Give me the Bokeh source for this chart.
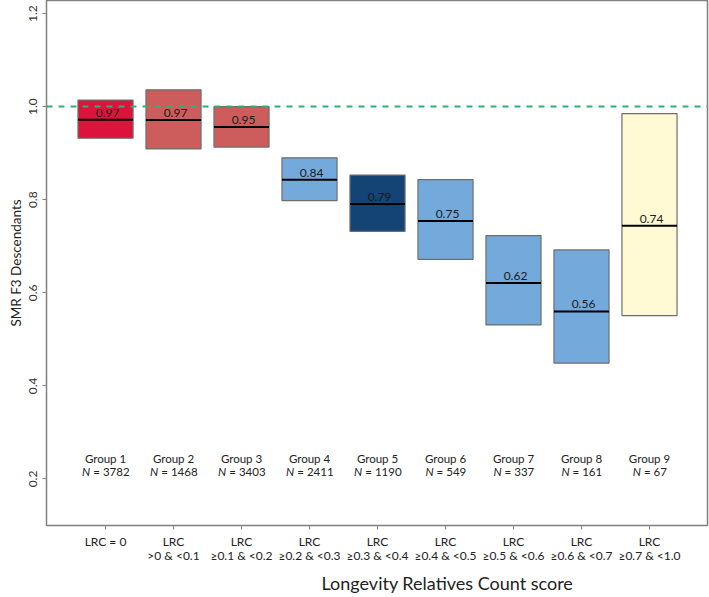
from bokeh.plotting import figure
from bokeh.models import Span, Title, FixedTicker, ColumnDataSource
from bokeh.core.properties import value
from bokeh.embed import file_html
from bokeh.resources import INLINE

# ---- data ----
groups = [1, 2, 3, 4, 5, 6, 7, 8, 9]
group_names = ["Group 1", "Group 2", "Group 3", "Group 4", "Group 5",
               "Group 6", "Group 7", "Group 8", "Group 9"]
n_counts = [3782, 1468, 3403, 2411, 1190, 549, 337, 161, 67]
lrc_labels = ["LRC = 0", "LRC\n>0 & <0.1", "LRC\n≥0.1 & <0.2", "LRC\n≥0.2 & <0.3",
              "LRC\n≥0.3 & <0.4", "LRC\n≥0.4 & <0.5", "LRC\n≥0.5 & <0.6",
              "LRC\n≥0.6 & <0.7", "LRC\n≥0.7 & <1.0"]
smr_median = [0.972, 0.971, 0.956, 0.843, 0.791, 0.754, 0.621, 0.560, 0.744]
smr_lower = [0.932, 0.909, 0.913, 0.798, 0.732, 0.672, 0.531, 0.449, 0.551]
smr_upper = [1.014, 1.036, 1.000, 0.890, 0.853, 0.843, 0.723, 0.692, 0.985]
smr_text = ["0.97", "0.97", "0.95", "0.84", "0.79", "0.75", "0.62", "0.56", "0.74"]
box_colors = ["#DC143C", "#CD5C5C", "#CD5C5C", "#74A9DB", "#134475",
              "#74A9DB", "#74A9DB", "#74A9DB", "#FFFAD4"]
y_ticks = [0.2, 0.4, 0.6, 0.8, 1.0, 1.2]
y_tick_labels = ["0.2", "0.4", "0.6", "0.8", "1.0", "1.2"]
reference_value = 1.0

# ---- style ----
FONT = "Lato"
BOX_W = 0.81
GROUP_Y = 0.2434
N_Y = 0.215
FS = 11.5  # px, group labels

W, H = 709, 597
p = figure(width=W, height=H, output_backend="svg", toolbar_location=None,
           x_range=(0.132, 9.853), y_range=(0.1, 1.228),
           min_border_left=46, min_border_right=2, min_border_top=0,
           min_border_bottom=69)
p.grid.visible = False
p.outline_line_color = "#808080"
p.outline_line_width = 1.5
p.background_fill_color = "white"
p.border_fill_color = "white"

src = ColumnDataSource(dict(
    x=groups, lo=smr_lower, hi=smr_upper, med=smr_median, color=box_colors,
    txt=smr_text,
    x0=[g - BOX_W / 2 for g in groups], x1=[g + BOX_W / 2 for g in groups],
))

p.vbar(x="x", width=BOX_W, bottom="lo", top="hi", source=src,
       fill_color="color", line_color="#6e6e6e", line_width=1.2)
p.segment(x0="x0", x1="x1", y0="med", y1="med", source=src,
          line_color="black", line_width=2)
p.add_layout(Span(location=reference_value, dimension="width",
                  line_color="#2FB06E", line_width=2, line_dash="6 6"))
p.text(x="x", y="med", text="txt", source=src, text_font=value(FONT),
       text_font_size="12px", text_align="center", text_baseline="middle",
       x_offset=2, y_offset=-7, text_color="#1a1a1a")

# group labels
p.text(x=groups, y=[GROUP_Y] * len(groups), text=group_names,
       text_font=value(FONT), text_font_size=f"{FS}px", text_align="center",
       text_baseline="middle", text_color="#222222")

# N = xxx with italic N
def est_w(s, fs):
    w = 0.0
    for ch in s:
        if ch.isdigit() or ch == "=":
            w += 0.58
        elif ch == " ":
            w += 0.2
        else:
            w += 0.6
    return w * fs

rest = [f"= {n}" for n in n_counts]
n_w = 0.72 * FS
sp_w = 0.25 * FS
xo_n, xo_r = [], []
for r in rest:
    total = n_w + sp_w + est_w(r, FS)
    start = -total / 2
    xo_n.append(start)
    xo_r.append(start + n_w + sp_w)
nsrc = ColumnDataSource(dict(x=groups, y=[N_Y] * len(groups), rest=rest,
                             nn=["N"] * len(groups), xon=xo_n, xor=xo_r))
p.text(x="x", y="y", text="nn", source=nsrc, x_offset="xon",
       text_font=value(FONT), text_font_size=f"{FS}px", text_font_style="italic",
       text_align="left", text_baseline="middle", text_color="#222222")
p.text(x="x", y="y", text="rest", source=nsrc, x_offset="xor",
       text_font=value(FONT), text_font_size=f"{FS}px",
       text_align="left", text_baseline="middle", text_color="#222222")

# axes
xa = p.xaxis[0]
xa.ticker = FixedTicker(ticks=groups)
xa.major_label_overrides = {g: l for g, l in zip(groups, lrc_labels)}
xa.major_label_text_font = FONT
xa.major_label_text_font_size = "12px"
xa.major_label_text_line_height = 0.95
xa.major_label_text_color = "#222222"
xa.major_tick_in = 0
xa.major_tick_out = 4
xa.minor_tick_line_color = None
xa.axis_line_color = None
xa.major_tick_line_color = "#808080"
xa.major_label_standoff = 4

ya = p.yaxis[0]
ya.ticker = FixedTicker(ticks=y_ticks)
ya.major_label_overrides = {t: l for t, l in zip(y_ticks, y_tick_labels)}
ya.major_label_orientation = "vertical"
ya.major_label_text_font = FONT
ya.major_label_text_font_size = "12px"
ya.major_label_text_color = "#333333"
ya.major_tick_in = 0
ya.major_tick_out = 4
ya.minor_tick_line_color = None
ya.axis_line_color = None
ya.major_tick_line_color = "#808080"
ya.major_label_standoff = 5
ya.axis_label = "SMR F3 Descendants"
ya.axis_label_text_font = FONT
ya.axis_label_text_font_size = "13.5px"
ya.axis_label_text_font_style = "normal"
ya.axis_label_text_color = "#222222"
ya.axis_label_standoff = 3

p.add_layout(Title(text="Longevity Relatives Count score", text_font=FONT,
                   text_font_size="18px", text_font_style="normal",
                   text_color="#222222", align="left", offset=275,
                   standoff=8), "below")

open("out.html", "w").write(file_html(p, INLINE))
